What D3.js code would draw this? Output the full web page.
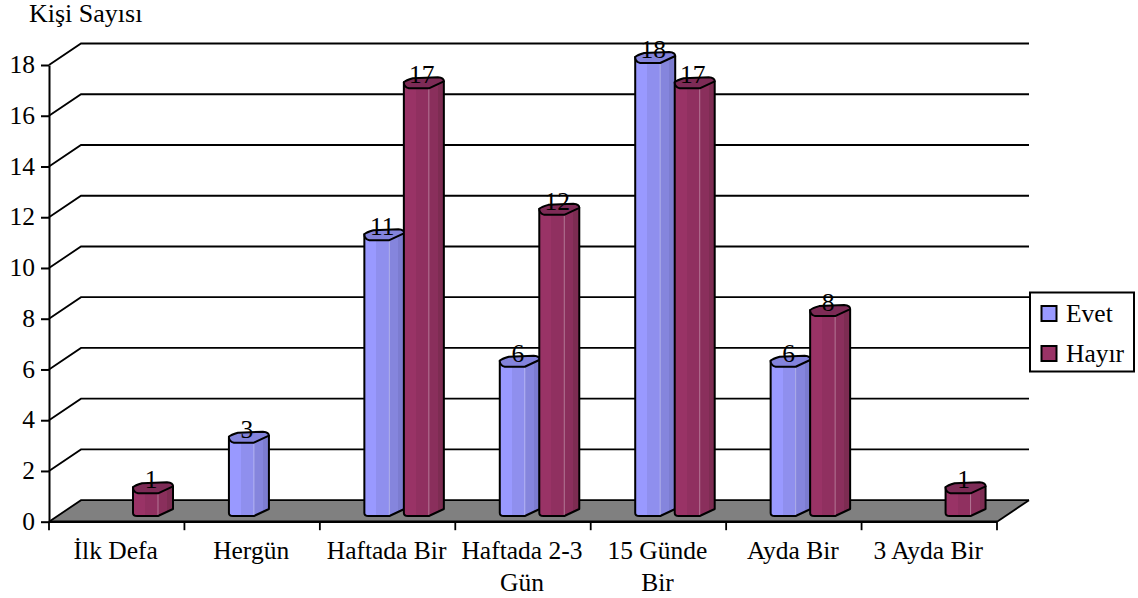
<!DOCTYPE html>
<html>
<head>
<meta charset="utf-8">
<script src="https://cdn.jsdelivr.net/npm/d3@7/dist/d3.min.js"></script>
<style>
html,body{margin:0;padding:0;background:#fff}
svg{display:block}
text{font-family:"Liberation Serif",serif;fill:#000}
</style>
</head>
<body>
<svg id="c" width="1138" height="598"></svg>
<script>
const categories = ["İlk Defa","Hergün","Haftada Bir","Haftada 2-3 Gün","15 Günde Bir","Ayda Bir","3 Ayda Bir"];
const categoryLines = [["İlk Defa"],["Hergün"],["Haftada Bir"],["Haftada 2-3","Gün"],["15 Günde","Bir"],["Ayda Bir"],["3 Ayda Bir"]];
const seriesNames = ["Evet","Hayır"];
const evet = [null,3,11,6,18,6,null];
const hayir = [1,null,17,12,17,8,1];
const yTicks = [0,2,4,6,8,10,12,14,16,18];
const seriesValues = [evet,hayir];
const seriesFront = ["#9999ff","#993366"];
const seriesStops = [["#9999ff","#8f8fee","#8585dd","#7c7cd0"],["#993366","#903060","#8a2f5c","#7d2c52"]];
const seriesCap = ["#8383dc","#7d2b56"];

const W=1138,H=598, fontSize=25.5;
const left=49, right=997, depthX=32, depthY=21.5;
const svg=d3.select("#c");
const x=d3.scaleBand().domain(categories).range([left,right]);
const xs=d3.scaleBand().domain(seriesNames).range([45,124]);
const yAxisScale=d3.scaleLinear().domain([0,18]).range([521.7,65]);
const yBar=d3.scaleLinear().domain([0,18]).range([512.6,57]);
const barBase=516;

const defs=svg.append("defs");
seriesNames.forEach((s,i)=>{
  const g=defs.append("linearGradient").attr("id","g"+i).attr("x1",0).attr("x2",1).attr("y1",0).attr("y2",0);
  const st=seriesStops[i];
  [[0,0],[.3,0],[.3,1],[.62,1],[.62,2],[.85,2],[.85,3],[1,3]].forEach(([o,c])=>g.append("stop").attr("offset",o).attr("stop-color",st[c]));
});

// floor
svg.append("path")
  .attr("d",d3.line()([[left,yAxisScale(0)],[left+depthX,yAxisScale(0)-depthY],[right+depthX,yAxisScale(0)-depthY],[right,yAxisScale(0)]])+"Z")
  .attr("fill","#808080");

// grid lines on walls
const grid=svg.append("g");
yTicks.forEach(t=>{
  const yy=yAxisScale(t);
  grid.append("path").attr("fill","none").attr("stroke","#000").attr("stroke-width",1.8)
    .attr("d",d3.line()([[left,yy],[left+depthX,yy-depthY],[right+depthX,yy-depthY]]));
});
svg.append("path").attr("fill","none").attr("stroke","#000").attr("stroke-width",1.8)
  .attr("d",d3.line()([[right+depthX,yAxisScale(0)-depthY],[right,yAxisScale(0)]]));

// axes
const yAxis=d3.axisLeft(yAxisScale).tickValues(yTicks).tickSize(8).tickPadding(6).tickSizeOuter(0);
const ya=svg.append("g").attr("transform",`translate(${left},0)`).call(yAxis);
ya.selectAll("path,line").attr("stroke","#000").attr("stroke-width",2);
ya.selectAll("text").attr("font-size",fontSize).attr("font-family","Liberation Serif").attr("fill","#000").attr("dy","0.3em");

const xg=svg.append("g");
xg.append("line").attr("x1",left).attr("x2",right).attr("y1",yAxisScale(0)).attr("y2",yAxisScale(0)).attr("stroke","#000").attr("stroke-width",2.4);
const tickXs=categories.map(c=>x(c)).concat([right]);
xg.selectAll("line.t").data(tickXs).join("line").attr("class","t")
  .attr("x1",d=>d).attr("x2",d=>d).attr("y1",yAxisScale(0)).attr("y2",yAxisScale(0)+8.5).attr("stroke","#000").attr("stroke-width",1.8);
categories.forEach((c,i)=>{
  const t=xg.append("text").attr("text-anchor","middle").attr("font-size",fontSize);
  categoryLines[i].forEach((l,j)=>t.append("tspan").attr("x",x(c)+x.bandwidth()/2-1).attr("y",559+j*32).text(l));
});

// bars
const cols=svg.append("g"), labels=svg.append("g");
const w=40;
categories.forEach((c,ci)=>{
  seriesNames.forEach((s,si)=>{
    const v=seriesValues[si][ci];
    if(v==null) return;
    const x0=x(c)+xs(s)-0.5, top=yBar(v);
    const g=cols.append("g").attr("transform",`translate(${x0},0)`);
    g.append("path").attr("fill",`url(#g${si})`).attr("stroke","#000").attr("stroke-width",2).attr("stroke-linejoin","round")
      .attr("d",`M0,${top} L0,${barBase-3} Q0,${barBase} 4,${barBase} L25,${barBase} L${w},${barBase-7} L${w},${top-1} Z`);
    g.append("line").attr("x1",25).attr("x2",25).attr("y1",top+6).attr("y2",barBase-1).attr("stroke","#fff").attr("stroke-opacity",.35).attr("stroke-width",1);
    g.append("path").attr("fill",seriesCap[si]).attr("stroke","#000").attr("stroke-width",2).attr("stroke-linejoin","round")
      .attr("d",`M0,${top} Q2,${top-2} 9,${top-4} L34,${top-5} Q${w},${top-4.5} ${w},${top-1} L25,${top+6} L5,${top+6} Q0,${top+5} 0,${top} Z`);
    labels.append("text").attr("x",x0+w/2-2).attr("y",top+1).attr("text-anchor","middle").attr("font-size",fontSize).text(v);
  });
});

// y title
svg.append("text").attr("x",29).attr("y",22).attr("font-size",fontSize+.5).text("Kişi Sayısı");

// legend
const lg=svg.append("g");
lg.append("rect").attr("x",1030).attr("y",292.5).attr("width",104).attr("height",79).attr("fill","#fff").attr("stroke","#000").attr("stroke-width",2);
seriesNames.forEach((s,i)=>{
  const yy=306+i*40;
  lg.append("rect").attr("x",1041.5).attr("y",yy).attr("width",15).attr("height",15).attr("fill",seriesFront[i]).attr("stroke","#000").attr("stroke-width",2);
  lg.append("text").attr("x",1066).attr("y",yy+16).attr("font-size",fontSize).text(s);
});
</script>
</body>
</html>
